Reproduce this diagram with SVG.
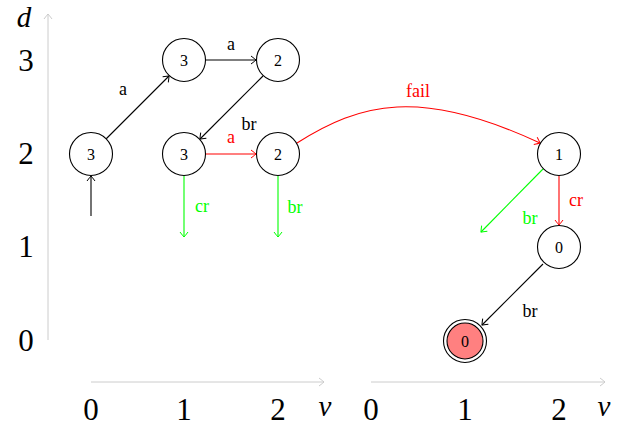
<svg xmlns="http://www.w3.org/2000/svg" width="630" height="428" viewBox="0 0 630 428" font-family="'Liberation Serif', 'Times New Roman', 'DejaVu Serif', serif">
<style>
text{font-family:'Liberation Serif','Times New Roman','DejaVu Serif',serif;text-anchor:middle}
.ax{stroke:#ccc;stroke-width:1;fill:none}
.axl{font-size:31px;fill:#000}
.axi{font-size:29px;font-style:italic}
.node circle{fill:#fff;stroke:#000;stroke-width:1.1}
.node text{font-size:16px}
.e{fill:none;stroke-width:1.1}
.k{stroke:#000}.r{stroke:#f00}.g{stroke:#0f0}
.lbl{font-size:18px}
</style>
<defs>
<marker id="ak" viewBox="-6 -5 8 10" refX="0" refY="0" markerWidth="8" markerHeight="10" markerUnits="userSpaceOnUse" orient="auto"><path d="M-5,-4 Q-1,-1 0,0 Q-1,1 -5,4" fill="none" stroke="#000" stroke-width="1"/></marker>
<marker id="ar" viewBox="-6 -5 8 10" refX="0" refY="0" markerWidth="8" markerHeight="10" markerUnits="userSpaceOnUse" orient="auto"><path d="M-5,-4 Q-1,-1 0,0 Q-1,1 -5,4" fill="none" stroke="#f00" stroke-width="1"/></marker>
<marker id="ag" viewBox="-6 -5 8 10" refX="0" refY="0" markerWidth="8" markerHeight="10" markerUnits="userSpaceOnUse" orient="auto"><path d="M-5,-4 Q-1,-1 0,0 Q-1,1 -5,4" fill="none" stroke="#0f0" stroke-width="1"/></marker>
<marker id="ax" viewBox="-6 -5 8 10" refX="0" refY="0" markerWidth="8" markerHeight="10" markerUnits="userSpaceOnUse" orient="auto"><path d="M-5,-4 Q-1,-1 0,0 Q-1,1 -5,4" fill="none" stroke="#ccc" stroke-width="1"/></marker>
</defs>
<g id="axes">
<line class="ax" x1="48" y1="340" x2="48" y2="14" marker-end="url(#ax)"/>
<line class="ax" x1="91" y1="382" x2="324" y2="382" marker-end="url(#ax)"/>
<line class="ax" x1="371" y1="382" x2="605" y2="382" marker-end="url(#ax)"/>
<text class="axi" x="24" y="27">d</text>
<text class="axl" x="26" y="71">3</text>
<text class="axl" x="26" y="164">2</text>
<text class="axl" x="26" y="257">1</text>
<text class="axl" x="26" y="351">0</text>
<text class="axl" x="91" y="420">0</text>
<text class="axl" x="184" y="420">1</text>
<text class="axl" x="278" y="420">2</text>
<text class="axi" x="325" y="416">v</text>
<text class="axl" x="371" y="420">0</text>
<text class="axl" x="465" y="420">1</text>
<text class="axl" x="559" y="420">2</text>
<text class="axi" x="604" y="416">v</text>
</g>
<g id="connectors">
<line class="e k" x1="91" y1="216" x2="91" y2="176" marker-end="url(#ak)"/>
<line class="e k" x1="106" y1="139" x2="169" y2="76" marker-end="url(#ak)"/>
<line class="e k" x1="206" y1="60" x2="256" y2="60" marker-end="url(#ak)"/>
<line class="e k" x1="263" y1="76" x2="200" y2="139" marker-end="url(#ak)"/>
<line class="e r" x1="206" y1="154" x2="256" y2="154" marker-end="url(#ar)"/>
<line class="e g" x1="184" y1="176" x2="184" y2="237" marker-end="url(#ag)"/>
<line class="e g" x1="278" y1="176" x2="278" y2="237" marker-end="url(#ag)"/>
<path class="e r" d="M297,143 C360,103 420,87 540,143" marker-end="url(#ar)"/>
<line class="e g" x1="543" y1="169" x2="481" y2="232" marker-end="url(#ag)"/>
<line class="e r" x1="559" y1="176" x2="559" y2="225" marker-end="url(#ar)"/>
<line class="e k" x1="543" y1="264" x2="482" y2="325" marker-end="url(#ak)"/>
<text class="lbl" x="123" y="95">a</text>
<text class="lbl" x="231" y="50">a</text>
<text class="lbl" x="249" y="130">br</text>
<text class="lbl" x="231" y="143" fill="#f00">a</text>
<text class="lbl" x="202" y="212" fill="#0f0">cr</text>
<text class="lbl" x="295" y="213" fill="#0f0">br</text>
<text class="lbl" x="418" y="97" fill="#f00">fail</text>
<text class="lbl" x="530" y="224" fill="#0f0">br</text>
<text class="lbl" x="576" y="206" fill="#f00">cr</text>
<text class="lbl" x="530" y="317">br</text>
</g>
<g id="n0" class="node"><circle cx="91" cy="154" r="21.5"/><text x="91" y="159.5">3</text></g>
<g id="n1" class="node"><circle cx="184" cy="60" r="21.5"/><text x="184" y="65.5">3</text></g>
<g id="n2" class="node"><circle cx="278" cy="60" r="21.5"/><text x="278" y="65.5">2</text></g>
<g id="n3" class="node"><circle cx="184" cy="154" r="21.5"/><text x="184" y="159.5">3</text></g>
<g id="n4" class="node"><circle cx="278" cy="154" r="21.5"/><text x="278" y="159.5">2</text></g>
<g id="n5" class="node"><circle cx="559" cy="154" r="21.5"/><text x="559" y="159.5">1</text></g>
<g id="n6" class="node"><circle cx="559" cy="247" r="21.5"/><text x="559" y="252.5">0</text></g>
<g id="n7" class="node"><circle cx="465" cy="341" r="21.5"/><circle cx="465" cy="341" r="18" style="fill:#ff8080"/><text x="465" y="346.5">0</text></g>
</svg>
